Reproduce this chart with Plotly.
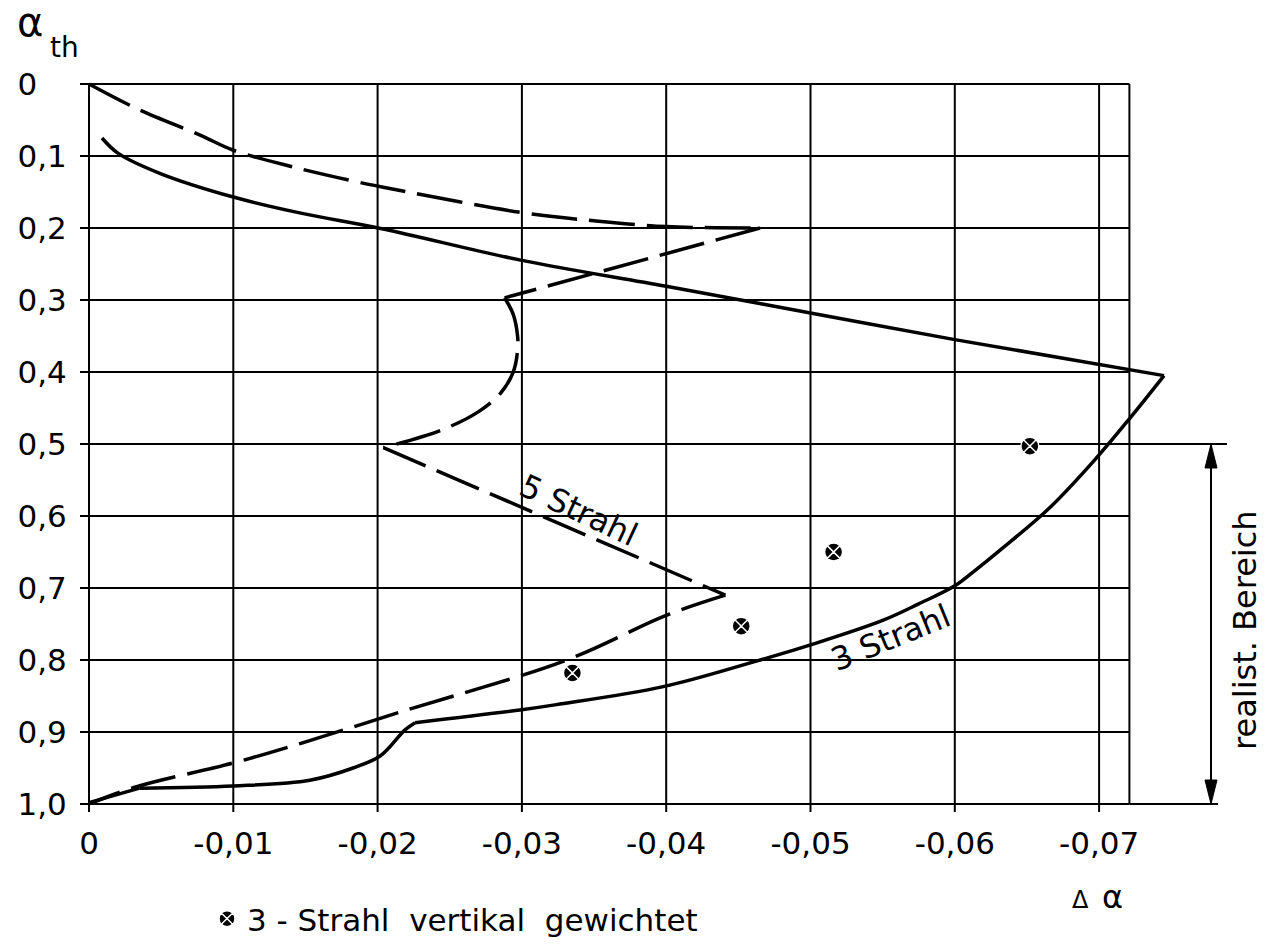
import plotly.graph_objects as go

# ---------------- data ----------------
x_tick_vals = [0, -0.01, -0.02, -0.03, -0.04, -0.05, -0.06, -0.07]
x_tick_text = ["0", "-0,01", "-0,02", "-0,03", "-0,04", "-0,05", "-0,06", "-0,07"]
y_tick_vals = [0, 0.1, 0.2, 0.3, 0.4, 0.5, 0.6, 0.7, 0.8, 0.9, 1.0]
y_tick_text = ["0\u00a0\u00a0\u00a0", "0,1", "0,2", "0,3", "0,4", "0,5", "0,6", "0,7", "0,8", "0,9", "1,0"]

# 5-Strahl (dashed), in segments between sharp corners
s5_seg1_x = [0, -0.0035, -0.0077, -0.0100, -0.0141, -0.0186, -0.0203, -0.0301, -0.0350, -0.0400, -0.0465]
s5_seg1_y = [0, 0.036, 0.071, 0.092, 0.115, 0.136, 0.143, 0.179, 0.190, 0.198, 0.200]
s5_seg2_x = [-0.0465, -0.0288]
s5_seg2_y = [0.200, 0.297]
s5_seg3_x = [-0.0288, -0.0294, -0.0297, -0.0297, -0.0294, -0.0285, -0.0270, -0.0245, -0.0204]
s5_seg3_y = [0.297, 0.320, 0.350, 0.370, 0.400, 0.430, 0.455, 0.480, 0.505]
s5_seg4_x = [-0.0204, -0.0441]
s5_seg4_y = [0.505, 0.710]
s5_seg5_x = [-0.0441, -0.0400, -0.0331, -0.0216, -0.0148, -0.0100, -0.0033, 0]
s5_seg5_y = [0.710, 0.738, 0.800, 0.872, 0.915, 0.943, 0.976, 1.0]

# 3-Strahl (solid), in segments between sharp corners
s3_seg1_x = [-0.0009, -0.0020, -0.0049, -0.0100, -0.0146, -0.0203, -0.0300, -0.0400, -0.0500, -0.0600, -0.0745]
s3_seg1_y = [0.075, 0.096, 0.124, 0.157, 0.179, 0.201, 0.245, 0.281, 0.318, 0.355, 0.405]
s3_seg2_x = [-0.0745, -0.0721, -0.0697, -0.0665, -0.0631, -0.0615, -0.0600, -0.0575, -0.0550, -0.0500,
             -0.0460, -0.0398, -0.0324, -0.0300, -0.0226]
s3_seg2_y = [0.405, 0.465, 0.522, 0.590, 0.648, 0.674, 0.697, 0.722, 0.745, 0.779,
             0.803, 0.837, 0.862, 0.869, 0.887]
s3_seg3_x = [-0.0226, -0.0219, -0.0202, -0.0183, -0.0153, -0.0100, -0.0035]
s3_seg3_y = [0.887, 0.897, 0.933, 0.950, 0.967, 0.975, 0.978]
s3_seg4_x = [-0.0035, 0]
s3_seg4_y = [0.978, 0.998]

# 3-Strahl vertikal gewichtet (points)
pts_x = [-0.0335, -0.0452, -0.0516, -0.0652]
pts_y = [0.818, 0.753, 0.650, 0.503]

grid_right = -0.0721
range_top, range_bottom = 0.5, 1.0

# ---------------- layout helpers (pixel -> data / paper, for placement) ----------------
PX0, PXS = 89, 14430.0   # x=0 at 89px, px per unit
PY0, PYS = 84, 720.0     # y=0 at 84px
ML, MT, PW, PH = 80, 77, 1185, 736


def X(px):
    return -(px - PX0) / PXS


def Y(py):
    return (py - PY0) / PYS


def PXp(px):
    return (px - ML) / PW


def PYp(py):
    return 1 - (py - MT) / PH


FONT = "DejaVu Sans"
fig = go.Figure()

dash_line = dict(color="black", width=3.5, dash="46px,12px")
solid_line = dict(color="black", width=3.5)
for sx, sy in [(s5_seg1_x, s5_seg1_y), (s5_seg2_x, s5_seg2_y), (s5_seg3_x, s5_seg3_y),
               (s5_seg4_x, s5_seg4_y), (s5_seg5_x, s5_seg5_y)]:
    fig.add_trace(go.Scatter(x=sx, y=sy, mode="lines", showlegend=False, line_shape="spline",
                             line=dash_line))
for sx, sy in [(s3_seg1_x, s3_seg1_y), (s3_seg2_x, s3_seg2_y), (s3_seg3_x, s3_seg3_y),
               (s3_seg4_x, s3_seg4_y)]:
    fig.add_trace(go.Scatter(x=sx, y=sy, mode="lines", showlegend=False, line_shape="spline",
                             line=solid_line))
fig.add_trace(go.Scatter(x=pts_x, y=pts_y, mode="markers",
                         name="3\u00a0-\u00a0Strahl\u00a0\u00a0vertikal\u00a0\u00a0gewichtet",
                         marker=dict(symbol="circle-x", size=18, color="black",
                                     line=dict(width=1.5, color="white"))))

shapes = []
lw = 2
# horizontal grid lines (+ outside tick)
for v in y_tick_vals:
    shapes.append(dict(type="line", x0=X(80), x1=grid_right, y0=v, y1=v,
                       line=dict(color="black", width=lw), layer="below"))
# vertical grid lines (+ outside tick)
for v in x_tick_vals:
    shapes.append(dict(type="line", x0=v, x1=v, y0=0, y1=Y(812),
                       line=dict(color="black", width=lw), layer="below"))
shapes.append(dict(type="line", x0=grid_right, x1=grid_right, y0=0, y1=1.0,
                   line=dict(color="black", width=lw), layer="below"))
# dimension lines for "realist. Bereich"
shapes.append(dict(type="line", x0=grid_right, x1=X(1227), y0=range_top, y1=range_top,
                   line=dict(color="black", width=lw)))
shapes.append(dict(type="line", x0=grid_right, x1=X(1218), y0=range_bottom, y1=range_bottom,
                   line=dict(color="black", width=lw)))
ax_x = X(1211)
shapes.append(dict(type="line", x0=ax_x, x1=ax_x, y0=range_top, y1=range_bottom,
                   line=dict(color="black", width=2)))
hw = 6 / PXS
hl = 24 / PYS
shapes.append(dict(type="path",
                   path=f"M {ax_x - hw} {range_top + hl} L {ax_x} {range_top} L {ax_x + hw} {range_top + hl} Z",
                   fillcolor="black", line=dict(color="black", width=1)))
shapes.append(dict(type="path",
                   path=f"M {ax_x - hw} {range_bottom - hl} L {ax_x} {range_bottom} L {ax_x + hw} {range_bottom - hl} Z",
                   fillcolor="black", line=dict(color="black", width=1)))

annotations = []
# paper-referenced labels (outside the plotting area)
for px, py, txt, size in [(30, 22, "α", 40), (64, 47, "th", 28), (1080, 900, "Δ", 24), (1112, 897, "α", 32)]:
    annotations.append(dict(x=PXp(px), y=PYp(py), xref="paper", yref="paper", text=txt,
                            showarrow=False, xanchor="center", yanchor="middle",
                            font=dict(size=size, family=FONT, color="black")))
# data-referenced labels
for px, py, txt, ang in [(1245, 630, "realist. Bereich", -90), (578, 510, "5 Strahl", 25),
                         (890, 638, "3 Strahl", -22)]:
    annotations.append(dict(x=X(px), y=Y(py), xref="x", yref="y", text=txt, textangle=ang,
                            showarrow=False, xanchor="center", yanchor="middle",
                            font=dict(size=32, family=FONT, color="black")))

fig.update_layout(
    width=1265, height=948,
    margin=dict(l=ML, r=0, t=MT, b=948 - MT - PH),
    paper_bgcolor="white", plot_bgcolor="white",
    shapes=shapes, annotations=annotations,
    font=dict(family=FONT, color="black", size=30),
    showlegend=True,
    legend=dict(x=PXp(207), y=PYp(919), xanchor="left", yanchor="middle",
                bgcolor="rgba(0,0,0,0)", font=dict(size=31, family=FONT, color="black")),
    xaxis=dict(range=[X(80), X(1265)], showgrid=False, zeroline=False, showline=False,
               tickmode="array", tickvals=x_tick_vals, ticktext=x_tick_text,
               ticks="outside", ticklen=3, tickcolor="rgba(0,0,0,0)",
               tickfont=dict(size=31, family=FONT, color="black")),
    yaxis=dict(range=[Y(813), Y(77)], showgrid=False, zeroline=False, showline=False,
               tickmode="array", tickvals=y_tick_vals, ticktext=y_tick_text,
               ticks="outside", ticklen=6, tickcolor="rgba(0,0,0,0)",
               tickfont=dict(size=31, family=FONT, color="black")),
)

fig.write_html("out.html")
